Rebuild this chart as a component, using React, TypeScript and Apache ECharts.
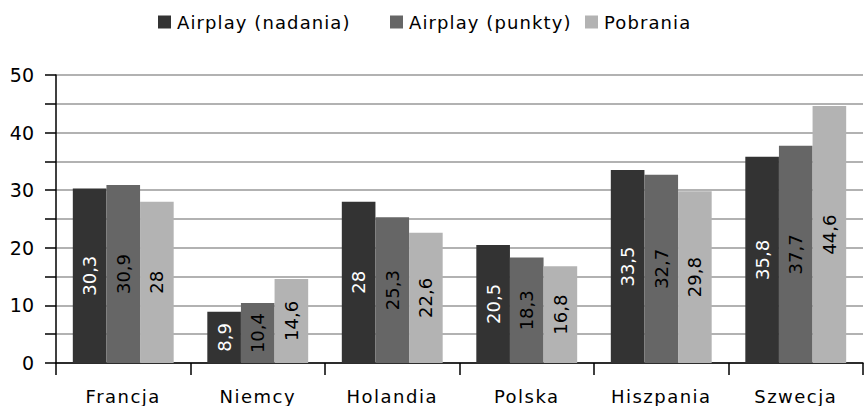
import React, { useEffect, useRef } from "react";
import * as echarts from "echarts";

const categories = ["Francja", "Niemcy", "Holandia", "Polska", "Hiszpania", "Szwecja"];
const seriesNames = ["Airplay (nadania)", "Airplay (punkty)", "Pobrania"];
const airplayNadania = [30.3, 8.9, 28, 20.5, 33.5, 35.8];
const airplayPunkty = [30.9, 10.4, 25.3, 18.3, 32.7, 37.7];
const pobrania = [28, 14.6, 22.6, 16.8, 29.8, 44.6];
const seriesColors = ["#333333", "#666666", "#b3b3b3"];
const labelColors = ["#ffffff", "#000000", "#000000"];
const legendLefts = [158, 390, 585];

const FONT = "DejaVu Sans";

export default function App() {
  const ref = useRef<HTMLDivElement>(null);
  useEffect(() => {
    if (!ref.current) return;
    const el = ref.current;
    const chart = echarts.init(el, null, { renderer: "svg" });
    const data = [airplayNadania, airplayPunkty, pobrania];
    const catSet = new Set(categories);
    const legSet = new Set(seriesNames);
    const applySpacing = () => {
      el.querySelectorAll("text").forEach((t) => {
        const s = (t.textContent || "").trim();
        if (catSet.has(s)) t.setAttribute("letter-spacing", "1.5");
        else if (legSet.has(s)) t.setAttribute("letter-spacing", "1.1");
      });
    };
    chart.setOption({
      animation: false,
      textStyle: { fontFamily: FONT },
      legend: seriesNames.map((name, i) => ({
        top: 13,
        left: legendLefts[i],
        padding: 0,
        itemWidth: 13,
        itemHeight: 13,
        itemGap: 6,
        icon: "rect",
        textStyle: { fontFamily: FONT, fontSize: 18, color: "#000", padding: [0, 0, 0, 1] },
        data: [name],
      })),
      grid: { left: 56, right: 1, top: 75, bottom: 43, containLabel: false },
      xAxis: {
        type: "category",
        data: categories,
        boundaryGap: true,
        axisLine: { lineStyle: { color: "#000", width: 1.5 } },
        axisTick: { show: true, length: 12, lineStyle: { color: "#000", width: 1.5 } },
        axisLabel: { fontFamily: FONT, fontSize: 18, color: "#000", margin: 24 },
      },
      yAxis: {
        type: "value",
        min: 0,
        max: 50,
        interval: 5,
        axisLine: { show: true, lineStyle: { color: "#000", width: 1.5 } },
        axisTick: { show: true, length: 11, lineStyle: { color: "#000", width: 1.5 } },
        axisLabel: {
          fontFamily: FONT,
          fontSize: 19,
          color: "#000",
          margin: 22,
          formatter: (v: number) => (v % 10 === 0 ? String(v) : ""),
        },
        splitLine: { show: true, lineStyle: { color: "#999999", width: 1.5 } },
      },
      series: data.map((d, i) => ({
        name: seriesNames[i],
        type: "bar",
        data: d,
        barGap: "0%",
        barCategoryGap: "25%",
        itemStyle: { color: seriesColors[i] },
        label: {
          show: true,
          position: "inside",
          rotate: 90,
          fontFamily: FONT,
          fontSize: 18,
          color: labelColors[i],
          formatter: (p: any) => String(p.value).replace(".", ","),
        },
      })),
    });
    applySpacing();
    chart.on("finished", applySpacing);
    return () => chart.dispose();
  }, []);
  return (
    <div
      ref={ref}
      style={{ position: "fixed", left: 0, top: 0, width: 864, height: 406, background: "#fff" }}
    />
  );
}
